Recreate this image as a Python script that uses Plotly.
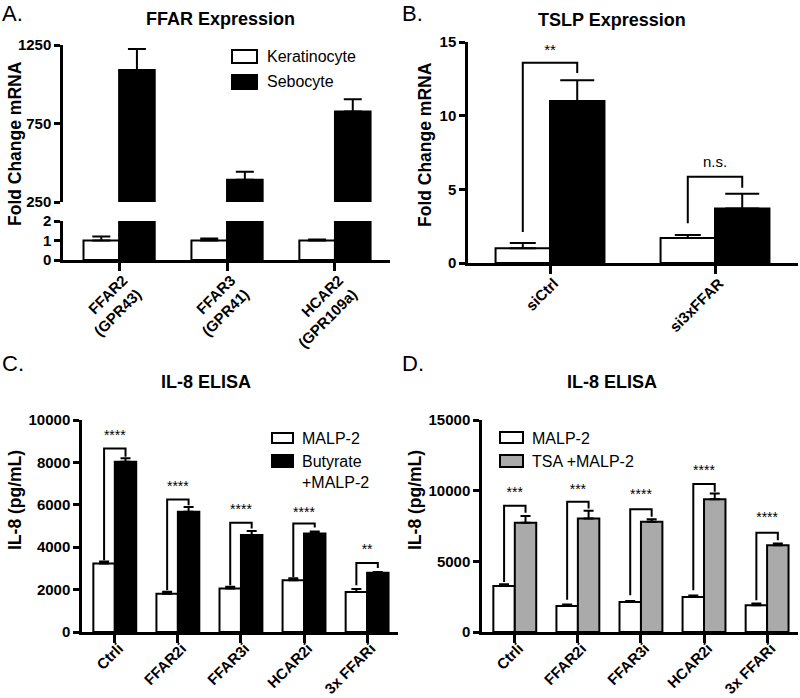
import plotly.graph_objects as go

FONT = "Arial, Liberation Sans, sans-serif"
W, H = 800, 698

# ---------------- Panel A data ----------------
a_title = "FFAR Expression"
a_ytitle = "Fold Change mRNA"
a_categories = ["FFAR2<br>(GPR43)", "FFAR3<br>(GPR41)", "HCAR2<br>(GPR109a)"]
a_series = ["Keratinocyte", "Sebocyte"]
a_keratinocyte = [1.0, 1.0, 1.0]
a_keratinocyte_err = [0.2, 0.1, 0.05]
a_sebocyte = [1090, 391, 827]
a_sebocyte_err = [134, 51, 77]
a_upper_ticks = [250, 750, 1250]
a_lower_ticks = [0, 1, 2]

# ---------------- Panel B data ----------------
b_title = "TSLP Expression"
b_ytitle = "Fold Change mRNA"
b_categories = ["siCtrl", "si3xFFAR"]
b_white = [1.0, 1.7]
b_white_err = [0.35, 0.2]
b_black = [11.0, 3.7]
b_black_err = [1.4, 1.0]
b_bracket_left = [2.1, 2.7]
b_bracket_top = [13.6, 5.85]
b_bracket_right = [12.9, 5.1]
b_sig = ["**", "n.s."]
b_sig_y = [14.4, 6.8]
b_ticks = [0, 5, 10, 15]

# ---------------- Panel C data ----------------
c_title = "IL-8 ELISA"
c_ytitle = "IL-8 (pg/mL)"
c_categories = ["Ctrli", "FFAR2i", "FFAR3i", "HCAR2i", "3x FFARi"]
c_series = ["MALP-2", "Butyrate<br>+MALP-2"]
c_malp2 = [3230, 1810, 2050, 2440, 1890]
c_malp2_err = [100, 90, 80, 100, 140]
c_butyrate = [8030, 5670, 4570, 4650, 2790]
c_butyrate_err = [160, 230, 200, 90, 40]
c_bracket_left = [3390, 1970, 2200, 2600, 2200]
c_bracket_top = [8660, 6250, 5150, 5120, 3260]
c_bracket_right = [8270, 5980, 4880, 4930, 3020]
c_sig = ["****", "****", "****", "****", "**"]
c_sig_y = [9200, 6800, 5730, 5570, 3850]
c_ticks = [0, 2000, 4000, 6000, 8000, 10000]

# ---------------- Panel D data ----------------
d_title = "IL-8 ELISA"
d_ytitle = "IL-8 (pg/mL)"
d_categories = ["Ctrli", "FFAR2i", "FFAR3i", "HCAR2i", "3x FFARi"]
d_series = ["MALP-2", "TSA +MALP-2"]
d_malp2 = [3260, 1840, 2130, 2480, 1890]
d_malp2_err = [120, 100, 70, 95, 120]
d_tsa = [7725, 8030, 7800, 9400, 6140]
d_tsa_err = [475, 545, 185, 400, 120]
d_bracket_left = [3540, 2290, 2600, 2950, 2240]
d_bracket_top = [8930, 9210, 8690, 10470, 7020]
d_bracket_right = [8430, 8740, 8150, 9920, 6500]
d_sig = ["***", "***", "****", "****", "****"]
d_sig_y = [9780, 10010, 9660, 11360, 8000]
d_ticks = [0, 5000, 10000, 15000]

WHITE = "#ffffff"
BLACK = "#000000"
GRAY = "#aaaaaa"

fig = go.Figure()


def px_x(p):
    return p / W


def px_y(p):
    return 1 - p / H


def bars(values, errs, color, xa, ya, offset, width, cap):
    n = len(values)
    err = None
    if errs is not None:
        err = dict(type="data", array=errs, arrayminus=[0] * n, symmetric=False,
                   color=BLACK, thickness=2, width=cap)
    fig.add_trace(go.Bar(
        x=list(range(n)), y=values, offset=offset, width=width,
        marker=dict(color=color, line=dict(color=BLACK, width=2)),
        error_y=err, xaxis=xa, yaxis=ya, showlegend=False, hoverinfo="y"))


def brackets(left, top, right, labels, label_y, xa, ya, half, size):
    xs, ys = [], []
    for i in range(len(left)):
        xs += [i - half, i - half, i + half, i + half, None]
        ys += [left[i], top[i], top[i], right[i], None]
    fig.add_trace(go.Scatter(x=xs, y=ys, mode="lines", line=dict(color=BLACK, width=2),
                             xaxis=xa, yaxis=ya, showlegend=False, hoverinfo="skip"))
    fig.add_trace(go.Scatter(x=[i for i in range(len(labels))], y=label_y, mode="text",
                             text=labels, textfont=dict(family=FONT, size=size, color=BLACK),
                             xaxis=xa, yaxis=ya, showlegend=False, hoverinfo="skip",
                             cliponaxis=False))


BW = 0.33
# Panel A
bars(a_keratinocyte, a_keratinocyte_err, WHITE, "x", "y2", -BW, BW, 9)
bars(a_sebocyte, None, BLACK, "x", "y2", 0, BW, 9)
bars(a_sebocyte, a_sebocyte_err, BLACK, "x", "y", 0, BW, 9)
# Panel B
bars(b_white, b_white_err, WHITE, "x2", "y3", -BW, BW, 13)
bars(b_black, b_black_err, BLACK, "x2", "y3", 0, BW, 17)
brackets(b_bracket_left, b_bracket_top, b_bracket_right, b_sig, b_sig_y, "x2", "y3", BW / 2, 15)
# Panel C
bars(c_malp2, c_malp2_err, WHITE, "x3", "y4", -0.34, 0.34, 5)
bars(c_butyrate, c_butyrate_err, BLACK, "x3", "y4", 0, 0.34, 5)
brackets(c_bracket_left, c_bracket_top, c_bracket_right, c_sig, c_sig_y, "x3", "y4", 0.17, 14)
# Panel D
bars(d_malp2, d_malp2_err, WHITE, "x4", "y5", -0.34, 0.34, 5)
bars(d_tsa, d_tsa_err, GRAY, "x4", "y5", 0, 0.34, 5)
brackets(d_bracket_left, d_bracket_top, d_bracket_right, d_sig, d_sig_y, "x4", "y5", 0.17, 14)

tickfont = dict(family=FONT, size=15, color=BLACK, weight="bold")
axis_common = dict(showline=True, linewidth=2.5, linecolor=BLACK, ticks="outside",
                   tickwidth=2.5, tickcolor=BLACK, showgrid=False, zeroline=False,
                   tickfont=tickfont, fixedrange=True, automargin=False)


def xaxis(p0, p1, rng, cats, anchor, standoff):
    return dict(axis_common, domain=[px_x(p0), px_x(p1)], range=rng,
                tickvals=list(range(len(cats))), ticktext=cats, tickangle=-45,
                ticklen=8, anchor=anchor, ticklabelstandoff=standoff, ticklabelshift=4)


def yaxis(top, bottom, rng, ticks, anchor):
    return dict(axis_common, domain=[px_y(bottom), px_y(top)], range=rng,
                tickvals=ticks, ticktext=[str(t) for t in ticks], ticklen=6,
                anchor=anchor)


fig.update_layout(
    width=W, height=H, margin=dict(l=0, r=0, t=0, b=0, pad=0, autoexpand=False),
    autosize=False,
    paper_bgcolor="white", plot_bgcolor="white", showlegend=False,
    font=dict(family=FONT, color=BLACK),
    xaxis=xaxis(63, 390, [-0.52, 2.51], a_categories, "y2", -5),
    yaxis=yaxis(45, 202, [250, 1250], a_upper_ticks, "x"),
    yaxis2=yaxis(221, 260, [0, 2], a_lower_ticks, "x"),
    xaxis2=xaxis(468, 798, [-0.497, 1.503], b_categories, "y3", -5),
    yaxis3=yaxis(42, 263, [0, 15], b_ticks, "x2"),
    xaxis3=xaxis(82, 398, [-0.52, 4.49], c_categories, "y4", -9),
    yaxis4=yaxis(420, 632, [0, 10000], c_ticks, "x3"),
    xaxis4=xaxis(482, 798, [-0.52, 4.49], d_categories, "y5", -9),
    yaxis5=yaxis(420, 632, [0, 15000], d_ticks, "x4"),
)

ann = []
shapes = []


def text(t, x, y, size, bold=False, angle=0, xanchor="center", yanchor="middle"):
    ann.append(dict(text=t, x=px_x(x), y=px_y(y), xref="paper", yref="paper",
                    showarrow=False, textangle=angle, xanchor=xanchor, yanchor=yanchor,
                    align="left",
                    font=dict(family=FONT, size=size, color=BLACK,
                              weight="bold" if bold else "normal")))


# panel letters
text("A.", 0, 14, 22, xanchor="left")
text("B.", 400, 14, 22, xanchor="left")
text("C.", 0, 364, 22, xanchor="left")
text("D.", 400, 364, 22, xanchor="left")
# titles
text(a_title, 220, 19, 18, bold=True)
text(b_title, 612, 20, 18, bold=True)
text(c_title, 206, 382, 18, bold=True)
text(d_title, 612, 382, 18, bold=True)
# y titles
text(a_ytitle, 15, 144, 17.5, bold=True, angle=-90)
text(b_ytitle, 425, 145, 17.5, bold=True, angle=-90)
text(c_ytitle, 15, 500, 17.5, bold=True, angle=-90)
text(d_ytitle, 415, 500, 17.5, bold=True, angle=-90)


def legend_item(x0, y0, x1, y1, color, label, tx, ty, yanchor="middle"):
    shapes.append(dict(type="rect", xref="paper", yref="paper",
                       x0=px_x(x0), x1=px_x(x1), y0=px_y(y1), y1=px_y(y0),
                       fillcolor=color, line=dict(color=BLACK, width=2)))
    text(label, tx, ty, 16, xanchor="left", yanchor=yanchor)


legend_item(232, 50, 257, 63, WHITE, a_series[0], 265, 57)
legend_item(232, 75, 257, 89, BLACK, a_series[1], 265, 82)
legend_item(272, 433, 293, 443, WHITE, c_series[0], 300, 438)
legend_item(272, 455, 293, 467, BLACK, c_series[1], 300, 451, yanchor="top")
legend_item(500, 432, 523, 443, WHITE, d_series[0], 530, 438)
legend_item(500, 455, 523, 467, GRAY, d_series[1], 530, 461)

fig.update_layout(annotations=ann, shapes=shapes)
fig.write_html(
    "out.html",
    config={"displayModeBar": False, "responsive": False},
    post_script=(
        "document.documentElement.style.margin='0';"
        "document.body.style.margin='0';"
        "document.body.style.overflow='hidden';"
        "var g=document.getElementById('{plot_id}');"
        "g.style.position='fixed';g.style.left='0';g.style.top='0';"
    ),
)
